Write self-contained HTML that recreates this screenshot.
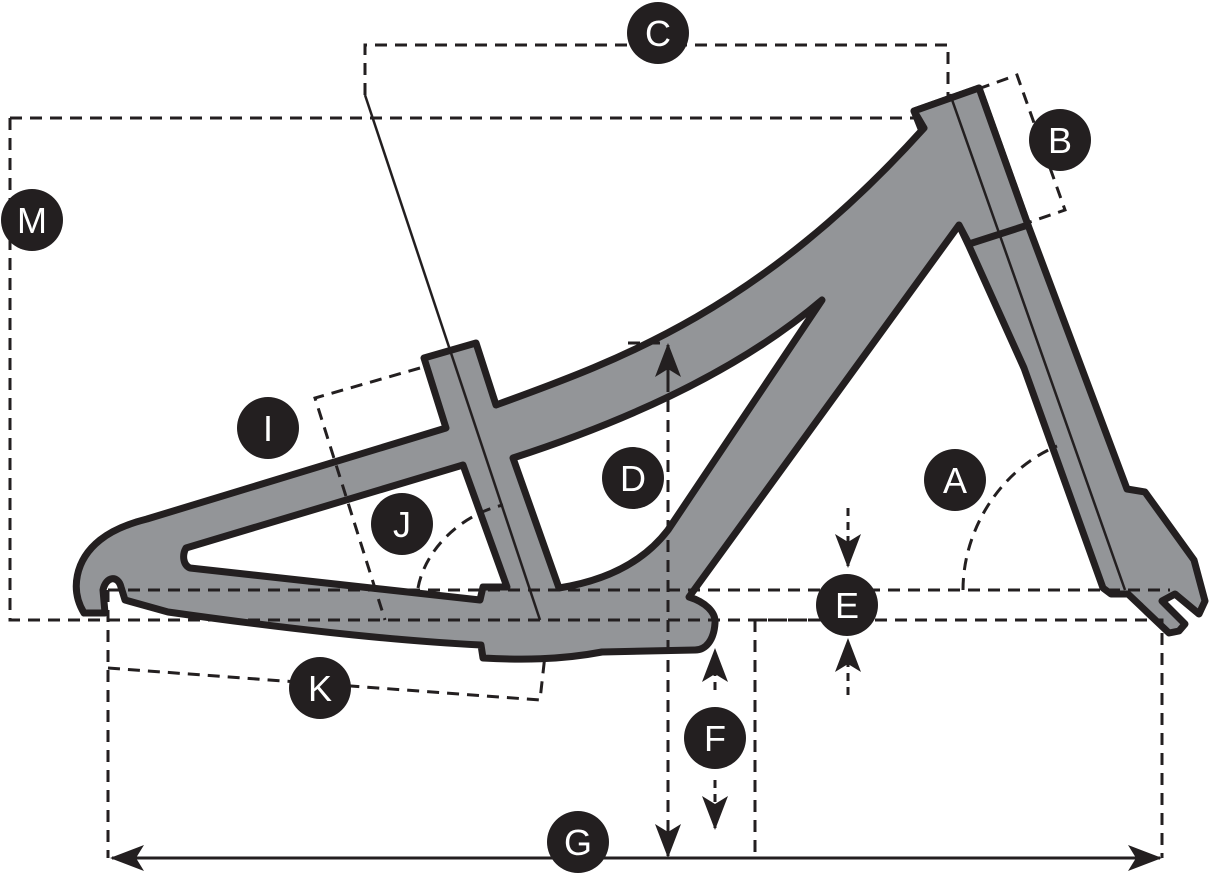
<!DOCTYPE html>
<html><head><style>body{margin:0;background:#fff}svg{display:block}</style></head><body>
<svg width="1211" height="880" viewBox="0 0 1211 880" xmlns="http://www.w3.org/2000/svg">
<defs>
<marker id="ah2" viewBox="0 0 34 34" refX="32" refY="17" markerWidth="34" markerHeight="34" markerUnits="userSpaceOnUse" orient="auto-start-reverse">
<path d="M0,4 L34,17 L0,30 L8,17 Z" fill="#231f20"/></marker>
</defs>
<g fill="#939598" stroke="#231f20" stroke-width="7" stroke-linejoin="round">
<path d="M914,111 L979,88 L1028,225 L1127,489 L1145,492 L1194,560 L1205,601 L1199,614 L1175,594 L1162,601 L1185,624 L1179,631 L1169,633 L1128,594 L1111,594 L1103,588 L1024,368 L969,246 L959,225 Z"/>
<path d="M424,358 L476,343 L496,405 C620,360 760,310 924,128 L914,111 L979,88 L1028,225 L969,244 L959,225 L689,597 C705,602 716,612 715,623 C714,640 706,650 695,650 L602,652 C560,660 520,660 483,658 L481,645 C380,640 260,625 168,612 L125,600 L121,587 C118,575 106,576 103,590 L105,613 L84,613 C70,590 75,560 100,540 C115,528 135,522 147,519 L446,428 Z M513,458 L559,588 C610,580 645,560 668,530 L822,300 C740,370 630,420 513,458 Z M463,465 L186,548 C182,555 183,565 190,568 L480,600 L483,587 L507,587 Z"/>
</g>
<g stroke="#231f20" stroke-width="2.5" fill="none">
<path d="M365,95 L540,620"/>
<path d="M950,94 L1125,590"/>
<path d="M969,244 L1028,225"/>
</g>
<g fill="none" stroke="#231f20" stroke-width="3" stroke-dasharray="12,8">
<path d="M365,95 L365,45 L948,45 L948,100"/>
<path d="M10,118 L916,118 M10,118 L10,620 L840,620"/>
<path d="M108,590 L1170,590"/>
<path d="M755,620 L1162,620 L1162,858 M755,620 L755,858"/>
<path d="M108,590 L108,858"/>
<path d="M978,89 L1017,75 L1065,210 L1030,222"/>
<path d="M420,368 L315,398 L385,620"/>
<path d="M108,668 L540,700 L545,655"/>
<path d="M963,590 C963,530 1000,470 1057,446"/>
<path d="M418,588 C425,550 460,515 503,505"/>
<path d="M628,343 L668,343"/>
<path d="M668,360 L668,840"/>
</g>
<g stroke="#231f20" stroke-width="3" fill="none">
<path d="M668,380 L668,345" marker-end="url(#ah2)"/>
<path d="M668,820 L668,856" marker-end="url(#ah2)"/>
<path d="M112,858 L1160,858" marker-start="url(#ah2)" marker-end="url(#ah2)"/>
<path d="M715,690 L715,650" marker-end="url(#ah2)" stroke-dasharray="8,6"/>
<path d="M715,780 L715,828" marker-end="url(#ah2)" stroke-dasharray="8,6"/>
<path d="M848,508 L848,566" marker-end="url(#ah2)" stroke-dasharray="8,6"/>
<path d="M848,695 L848,640" marker-end="url(#ah2)" stroke-dasharray="8,6"/>
</g>
<g fill="#231f20">
<circle cx="658" cy="33" r="31"/><circle cx="1060" cy="140" r="31"/><circle cx="32" cy="220" r="31"/>
<circle cx="268" cy="428" r="31"/><circle cx="633" cy="478" r="31"/><circle cx="955" cy="480" r="31"/>
<circle cx="402" cy="524" r="31"/><circle cx="847" cy="605" r="31"/><circle cx="320" cy="688" r="31"/>
<circle cx="715" cy="738" r="31"/><circle cx="578" cy="842" r="31"/>
</g>
<g fill="#fff" font-family="Liberation Sans, sans-serif" font-size="36" text-anchor="middle">
<text x="658" y="46">C</text><text x="1060" y="153">B</text><text x="32" y="233">M</text>
<text x="268" y="441">I</text><text x="633" y="491">D</text><text x="955" y="493">A</text>
<text x="402" y="537">J</text><text x="847" y="618">E</text><text x="320" y="701">K</text>
<text x="715" y="751">F</text><text x="578" y="855">G</text>
</g>
</svg>
</body></html>
